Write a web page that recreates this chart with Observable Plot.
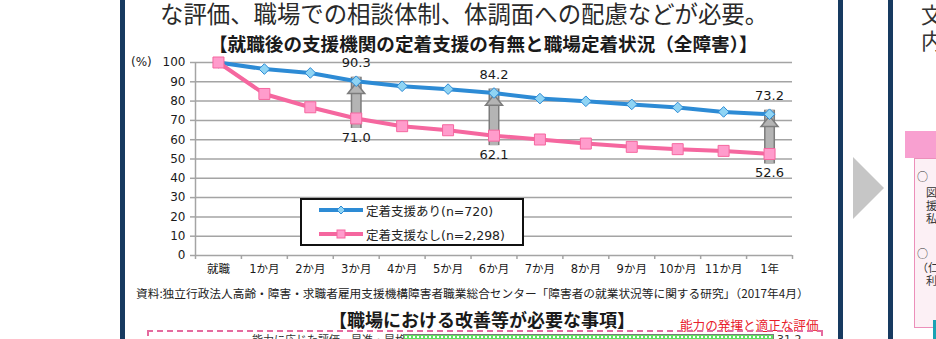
<!DOCTYPE html>
<html><head><meta charset="utf-8">
<script src="https://cdn.jsdelivr.net/npm/d3@7"></script>
<script src="https://cdn.jsdelivr.net/npm/@observablehq/plot@0.6"></script>
<style>
html,body{margin:0;padding:0;background:#fff;}
#page{position:relative;width:936px;height:339px;overflow:hidden;font-family:"Noto Sans CJK JP",sans-serif;color:#222;}
.abs{position:absolute;white-space:nowrap;}
.bar{position:absolute;top:0;height:339px;width:5px;background:#173a60;}
#chart{position:absolute;left:0;top:50px;}
#legend{position:absolute;left:300px;top:198px;width:220px;height:44px;border:2px solid #111;background:#fff;font-family:"DejaVu Sans","Noto Sans CJK JP",sans-serif;font-size:12.5px;color:#222;}
#legend .row{position:absolute;left:17px;height:16px;display:flex;align-items:center;}
#legend svg{margin-right:3px;}
.rt{position:absolute;white-space:nowrap;font-size:11px;line-height:11px;color:#333;}
</style></head><body>
<div id="page">
  <div class="bar" style="left:120px"></div>
  <div class="bar" style="left:838px"></div>
  <div class="bar" style="left:888px"></div>
  <div class="abs" style="left:853px;top:157px;width:0;height:0;border-left:31px solid #c6c6c6;border-top:31px solid transparent;border-bottom:31px solid transparent;"></div>

  <div class="abs" id="lead" style="left:160px;top:1px;font-size:23.4px;line-height:24px;color:#2a2a2a;">な評価、職場での相談体制、体調面への配慮などが必要。</div>
  <div class="abs" id="title" style="left:209px;top:33px;font-size:18.6px;line-height:19px;font-weight:bold;color:#1a1a1a;">【就職後の支援機関の定着支援の有無と職場定着状況（全障害）】</div>
  <div class="abs" id="ylab" style="left:131px;top:55px;font-family:'DejaVu Sans',sans-serif;font-size:12px;line-height:14px;color:#222;">(%)</div>
  <div id="chart"></div>
  <div id="legend"></div>
  <div class="abs" id="source" style="left:136px;top:286px;font-size:11.7px;line-height:14px;color:#222;"></div>

  <div class="abs" style="left:329px;top:310px;font-size:18px;line-height:19px;font-weight:bold;color:#1a1a1a;">【職場における改善等が必要な事項】</div>
  <div class="abs" style="left:680px;top:318px;font-size:12.6px;line-height:14px;color:#e8202a;">能力の発揮と適正な評価</div>
  <div class="abs" style="left:147px;top:330px;width:672px;height:30px;border:2px dashed #e56a9f;"></div>
  <div class="abs" style="left:252px;top:333px;font-size:11px;line-height:13px;color:#333;">能力に応じた評価、昇進・昇格</div>
  <div class="abs" style="left:403px;top:334px;width:369px;height:12px;border:1px solid #7a7a7a;background-color:#62e062;background-image:radial-gradient(circle,#ffffff 0.8px,transparent 1.2px);background-size:4px 4px;"></div>
  <div class="abs" style="left:777px;top:333px;font-family:'DejaVu Sans',sans-serif;font-size:11px;line-height:13px;color:#333;">31.2</div>

  <div class="abs" style="left:921px;top:1px;font-size:22px;line-height:24px;color:#333;">文</div>
  <div class="abs" style="left:921px;top:27px;font-size:22px;line-height:24px;color:#333;">内</div>
  <div class="abs" style="left:905px;top:131px;width:40px;height:27px;background:#f8a0d0;"></div>
  <div class="abs" style="left:914px;top:158px;width:40px;height:168px;background:#fcf0f5;border:1.5px solid #ec8fba;"></div>
  <div class="rt" style="left:917px;top:171px;">○</div>
  <div class="rt" style="left:926px;top:187px;">図</div>
  <div class="rt" style="left:926px;top:200px;">援</div>
  <div class="rt" style="left:926px;top:213px;">私</div>
  <div class="rt" style="left:917px;top:248px;">○</div>
  <div class="rt" style="left:917px;top:262px;">（仁</div>
  <div class="rt" style="left:926px;top:275px;">利</div>
  <div class="abs" style="left:933px;top:320px;width:6px;height:19px;background:#19a3b4;"></div>
</div>
<script>
// ---- data ----
const categories = ["就職","1か月","2か月","3か月","4か月","5か月","6か月","7か月","8か月","9か月","10か月","11か月","1年"];
const withSupport = [100, 96.6, 94.6, 90.3, 87.7, 86.2, 84.2, 81.3, 79.9, 78.3, 76.7, 74.4, 73.2];
const withoutSupport = [100, 83.7, 76.8, 71.0, 67.0, 64.9, 62.1, 60.1, 58.0, 56.3, 55.1, 54.2, 52.6];
const seriesNames = ["定着支援あり(n=720)", "定着支援なし(n=2,298)"];
const highlighted = [3, 6, 12];
const yTicks = [0, 10, 20, 30, 40, 50, 60, 70, 80, 90, 100];
const sourceText = "資料:独立行政法人高齢・障害・求職者雇用支援機構障害者職業総合センター「障害者の就業状況等に関する研究」（2017年4月）";

// ---- styles ----
const blue = "#2d8bd5", blueFill = "#8fd4f4";
const pink = "#f5679f", pinkFill = "#ff9ccc";
const grid = "#a4a4a4";

const rows = categories.map((c, i) => ({i, c, a: withSupport[i], b: withoutSupport[i]}));
const arrows = highlighted.map(i => ({i, lo: withoutSupport[i], hi: withSupport[i]}));
const boundaries = categories.map((_, i) => i - 0.5).concat([categories.length - 0.5]);
const idx = categories.map((_, i) => i);

const arrowHead = {
  draw(context, size) {
    const r = Math.sqrt(size / Math.PI);
    context.moveTo(0, -r * 0.62);
    context.lineTo(r, r * 0.62);
    context.lineTo(-r, r * 0.62);
    context.closePath();
  }
};

const chart = Plot.plot({
  width: 936, height: 230,
  marginTop: 12, marginBottom: 25, marginLeft: 195, marginRight: 144,
  x: {type: "linear", domain: [boundaries[0], boundaries[boundaries.length - 1]], axis: null, label: null},
  y: {domain: [0, 100], axis: null, label: null},
  style: {fontFamily: "'DejaVu Sans','Noto Sans CJK JP',sans-serif", fontSize: "12px", color: "#1a1a1a", background: "transparent", overflow: "visible"},
  marks: [
    Plot.ruleY(yTicks, {stroke: grid, strokeWidth: 1.5}),
    Plot.ruleX([boundaries[0]], {y1: 0, y2: 100, stroke: grid, strokeWidth: 1.5}),
    Plot.axisY(yTicks, {anchor: "left", tickSize: 5, tickPadding: 5, stroke: grid, strokeWidth: 1.5, fill: "#1a1a1a", fontSize: 12, label: null}),
    Plot.axisX(boundaries, {anchor: "bottom", tickSize: 4, tickFormat: () => "", stroke: grid, strokeWidth: 1.5, label: null}),
    Plot.axisX(idx, {anchor: "bottom", tickSize: 0, tickPadding: 9, tickFormat: i => categories[i], fill: "#1a1a1a", fontSize: 11.5, label: null}),
    // comparison arrows
    Plot.ruleX(arrows, {x: "i", y1: "lo", y2: "hi", insetTop: 10, insetBottom: 4, stroke: "#7c7c7c", strokeWidth: 11}),
    Plot.ruleX(arrows, {x: "i", y1: "lo", y2: "hi", insetTop: 10, insetBottom: 4, stroke: "#b4b4b4", strokeWidth: 8}),
    Plot.dot(arrows, {x: "i", y: "hi", dy: 7, symbol: arrowHead, r: 8.5, fill: "#b4b4b4", stroke: "#7c7c7c", strokeWidth: 1.5}),
    // series
    Plot.line(rows, {x: "i", y: "a", stroke: blue, strokeWidth: 4}),
    Plot.dot(rows, {x: "i", y: "a", symbol: "diamond2", r: 4.8, fill: blueFill, stroke: blue, strokeWidth: 1}),
    Plot.line(rows, {x: "i", y: "b", stroke: pink, strokeWidth: 4}),
    Plot.dot(rows, {x: "i", y: "b", symbol: "square", r: 6.2, fill: pinkFill, stroke: pink, strokeWidth: 1}),
    // value labels
    Plot.text(arrows, {x: "i", y: "hi", text: d => d.hi.toFixed(1), dy: -18, fontSize: 13, fill: "#1a1a1a"}),
    Plot.text(arrows, {x: "i", y: "lo", text: d => d.lo.toFixed(1), dy: 19, fontSize: 13, fill: "#1a1a1a"})
  ]
});
document.getElementById("chart").appendChild(chart);

// legend
const legend = document.getElementById("legend");
[[blue, blueFill, "diamond"], [pink, pinkFill, "square"]].forEach(([s, f, shape], k) => {
  const row = document.createElement("div");
  row.className = "row";
  row.style.top = (k === 0 ? 2 : 26) + "px";
  const mk = shape === "diamond"
    ? `<path d="M22,4 L26,8 L22,12 L18,8 Z" fill="${f}" stroke="${s}" stroke-width="1"/>`
    : `<rect x="18" y="4" width="8" height="8" fill="${f}" stroke="${s}" stroke-width="1"/>`;
  row.innerHTML = `<svg width="44" height="16"><line x1="0" y1="8" x2="44" y2="8" stroke="${s}" stroke-width="4"/>${mk}</svg><span>${seriesNames[k]}</span>`;
  legend.appendChild(row);
});
document.getElementById("source").textContent = sourceText;
</script>
</body></html>
